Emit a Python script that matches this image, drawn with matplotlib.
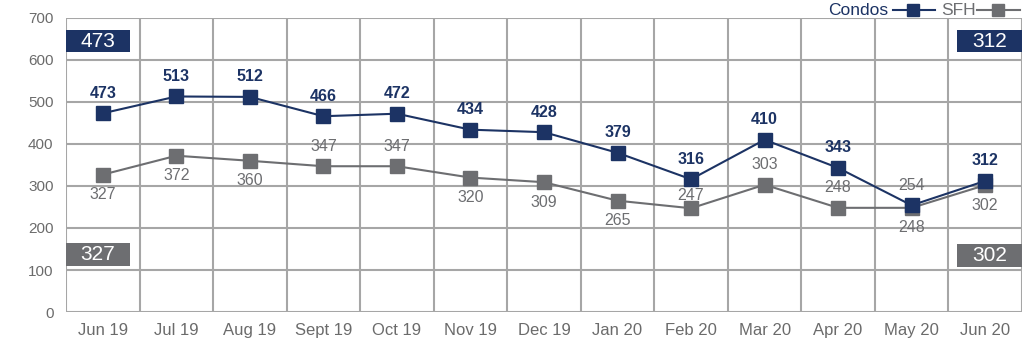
import matplotlib
matplotlib.use("Agg")
import matplotlib.pyplot as plt
from matplotlib.patches import Rectangle
from matplotlib.lines import Line2D
import numpy as np

plt.rcParams['font.family'] = ['Liberation Sans', 'DejaVu Sans']

months = ["Jun 19", "Jul 19", "Aug 19", "Sept 19", "Oct 19", "Nov 19", "Dec 19",
          "Jan 20", "Feb 20", "Mar 20", "Apr 20", "May 20", "Jun 20"]
condos = [473, 513, 512, 466, 472, 434, 428, 379, 316, 410, 343, 254, 312]
sfh = [327, 372, 360, 347, 347, 320, 309, 265, 247, 303, 248, 248, 302]
# label placement for SFH: +1 above, -1 below
sfh_pos = [-1, -1, -1, 1, 1, -1, -1, -1, 1, 1, 1, -1, -1]
yticks = [0, 100, 200, 300, 400, 500, 600, 700]

navy = "#1c3364"
grey = "#6d6e71"
gridc = "#a6a6a6"
tickc = "#6b6b6b"

fig = plt.figure(figsize=(10.24, 3.51), dpi=100)
ax = fig.add_axes([0.0645, 0.111, 0.9335, 0.838])

x = np.arange(len(months))
ax.plot(x, condos, color=navy, lw=1.5, marker='s', ms=10, mfc=navy, mec=navy, zorder=4)
ax.plot(x, sfh, color=grey, lw=1.5, marker='s', ms=10, mfc=grey, mec=grey, zorder=3)

for i, v in enumerate(condos):
    c = grey if i == 11 else navy
    w = 'normal' if i == 11 else 'bold'
    ax.annotate(str(v), (i, v), xytext=(0, 9), textcoords='offset points',
                ha='center', va='bottom', fontsize=11.5, color=c, fontweight=w, zorder=5)
for i, v in enumerate(sfh):
    if sfh_pos[i] > 0:
        off = 3.5 if (condos[i] - v) < 80 else 9
        ax.annotate(str(v), (i, v), xytext=(0, off), textcoords='offset points',
                    ha='center', va='bottom', fontsize=11.5, color=grey, zorder=5)
    else:
        ax.annotate(str(v), (i, v), xytext=(0, -9), textcoords='offset points',
                    ha='center', va='top', fontsize=11.5, color=grey, zorder=5)

ax.set_xlim(-0.5, len(months) - 0.5)
ax.set_ylim(0, 700)
ax.set_yticks(yticks)
ax.set_yticklabels([str(t) for t in yticks])
ax.set_xticks(x)
ax.set_xticklabels(months)
ax.tick_params(axis='both', length=0, colors=tickc)
ax.tick_params(axis='y', pad=9, labelsize=11)
ax.tick_params(axis='x', pad=8, labelsize=12)

# grid: horizontal at ticks, vertical at column boundaries
for t in yticks:
    ax.axhline(t, color=gridc, lw=1.5, zorder=1)
for b in np.arange(-0.5, len(months), 1.0):
    ax.axvline(b, color=gridc, lw=1.5, zorder=1)
for s in ax.spines.values():
    s.set_visible(False)

# boxes with first / last values
def box(x0, x1, y0, y1, text, color):
    ax.add_patch(Rectangle((x0, y0), x1 - x0, y1 - y0, fc=color, ec='none', zorder=6))
    ax.text((x0 + x1) / 2, (y0 + y1) / 2, text, ha='center', va='center',
            fontsize=15, color='white', zorder=7)

box(-0.5, 0.37, 619, 671, str(condos[0]), navy)
box(-0.5, 0.37, 110, 164, str(sfh[0]), grey)
box(11.62, 12.5, 619, 671, str(condos[-1]), navy)
box(11.62, 12.5, 107, 162, str(sfh[-1]), grey)

# legend-like header
ly = 0.9715
fig.text(0.867, ly, "Condos", ha='right', va='center', fontsize=12.5, color=navy)
fig.add_artist(Line2D([0.872, 0.913], [ly, ly], transform=fig.transFigure, color=navy, lw=1.5))
fig.add_artist(Line2D([0.892], [ly], transform=fig.transFigure, color=navy,
                      marker='s', ms=9, ls='none'))
fig.text(0.919, ly, "SFH", ha='left', va='center', fontsize=12.5, color=grey)
fig.add_artist(Line2D([0.954, 0.996], [ly, ly], transform=fig.transFigure, color=grey, lw=1.5))
fig.add_artist(Line2D([0.975], [ly], transform=fig.transFigure, color=grey,
                      marker='s', ms=9, ls='none'))

fig.savefig("out.png", dpi=100)
